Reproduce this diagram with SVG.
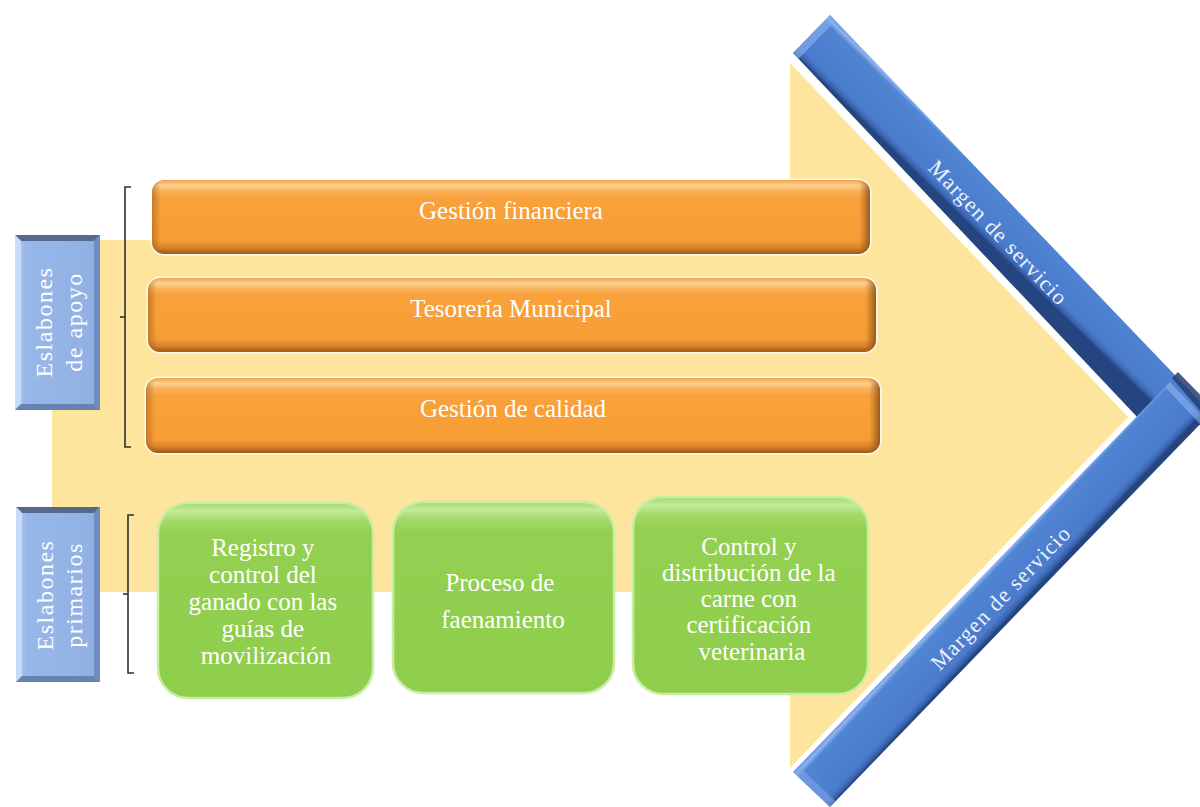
<svg xmlns="http://www.w3.org/2000/svg" width="1200" height="807" viewBox="0 0 1200 807">
  <defs>
    <style>
      .serif { font-family: "Liberation Serif", "Times New Roman", serif; fill: #ffffff; }
      .bar-text { font-size: 25px; text-anchor: middle; }
      .box-text { font-size: 25px; text-anchor: middle; }
      .label-text { font-size: 24px; text-anchor: middle; letter-spacing: 1.5px; }
      .band-text { font-size: 22px; text-anchor: middle; letter-spacing: 1.2px; fill: #eef2fa; }
      .bracket { fill: none; stroke: #2f2f2f; stroke-width: 1.6; }
      .bar-glow { fill: none; stroke: #ffffff; stroke-width: 3; opacity: 0.8; }
      .box-edge { fill: none; stroke: #c9eda3; stroke-width: 2.5; }
    </style>
    <linearGradient id="orangeV" x1="0" y1="0" x2="0" y2="1">
      <stop offset="0" stop-color="#f0a04a"/>
      <stop offset="0.07" stop-color="#fcd18f"/>
      <stop offset="0.15" stop-color="#fab158"/>
      <stop offset="0.24" stop-color="#f9a13b"/>
      <stop offset="0.82" stop-color="#f79d35"/>
      <stop offset="0.92" stop-color="#d7812a"/>
      <stop offset="1" stop-color="#9a5818"/>
    </linearGradient>
    <linearGradient id="orangeSide" x1="0" y1="0" x2="1" y2="0">
      <stop offset="0" stop-color="#8a4c12" stop-opacity="0.45"/>
      <stop offset="0.012" stop-color="#8a4c12" stop-opacity="0"/>
      <stop offset="0.985" stop-color="#8a4c12" stop-opacity="0"/>
      <stop offset="1" stop-color="#6e3c0e" stop-opacity="0.7"/>
    </linearGradient>
    <linearGradient id="greenV" x1="0" y1="0" x2="0" y2="1">
      <stop offset="0" stop-color="#9fd866"/>
      <stop offset="0.04" stop-color="#c4eb99"/>
      <stop offset="0.09" stop-color="#a3da68"/>
      <stop offset="0.16" stop-color="#93d051"/>
      <stop offset="1" stop-color="#8fcd4c"/>
    </linearGradient>
    <linearGradient id="labelFace" x1="0" y1="0" x2="1" y2="0">
      <stop offset="0" stop-color="#b9d1f5"/>
      <stop offset="0.12" stop-color="#98b7e9"/>
      <stop offset="1" stop-color="#90b0e4"/>
    </linearGradient>
    <linearGradient id="bandUpper" gradientUnits="userSpaceOnUse" x1="830" y1="15" x2="793" y2="53">
      <stop offset="0" stop-color="#5f8fdb"/>
      <stop offset="0.07" stop-color="#8fb4ee"/>
      <stop offset="0.16" stop-color="#5085d3"/>
      <stop offset="0.84" stop-color="#4a7bcc"/>
      <stop offset="0.94" stop-color="#3a63ad"/>
      <stop offset="1" stop-color="#24457f"/>
    </linearGradient>
    <linearGradient id="bandLower" gradientUnits="userSpaceOnUse" x1="793" y1="772" x2="830" y2="807">
      <stop offset="0" stop-color="#5f8fdb"/>
      <stop offset="0.07" stop-color="#8fb4ee"/>
      <stop offset="0.16" stop-color="#5085d3"/>
      <stop offset="0.84" stop-color="#4a7bcc"/>
      <stop offset="0.94" stop-color="#3a63ad"/>
      <stop offset="1" stop-color="#24457f"/>
    </linearGradient>
  </defs>

  <rect width="1200" height="807" fill="#ffffff"/>

  <!-- large value-chain arrow -->
  <path id="arrow" d="M52,240 H790 V63 L1128,417 L790,768 V592 H52 Z" fill="#fde59d"/>

  <!-- service-margin chevron bands -->
  <g id="margin-upper">
    <polygon points="793,53 830,15 1218,420 1140,420" fill="url(#bandUpper)"/>
    <polygon points="793,53 830,15 835.5,20.8 798.5,58.8" fill="#86abea" opacity="0.7"/>
    <polygon points="1172,378 1178,372 1215,410 1207,419" fill="#253f73" opacity="0.85"/>
    <text class="serif band-text" transform="translate(998,233) rotate(46.4)" y="7">Margen de servicio</text>
  </g>
  <g id="margin-lower">
    <polygon points="793,772 830,807 1205,419 1170,382" fill="url(#bandLower)"/>
    <polygon points="793,772 830,807 835.6,801.2 798.6,766.2" fill="#7fa5e6" opacity="0.6"/>
    <polygon points="1170,382 1205,419 1200,424 1166,388" fill="#8fb4ee" opacity="0.6"/>
    <text class="serif band-text" transform="translate(1001,598) rotate(-46)" y="7">Margen de servicio</text>
  </g>

  <!-- brackets grouping the links -->
  <g id="connectors">
    <path class="bracket" d="M131,187 H125 V447 H131"/>
    <path class="bracket" d="M125,317 H120"/>
    <path class="bracket" d="M134,515 H128 V673 H134"/>
    <path class="bracket" d="M128,594 H123"/>
  </g>

  <!-- side labels -->
  <g id="label-apoyo">
    <rect x="15" y="235" width="85" height="175" fill="url(#labelFace)"/>
    <polygon points="15,235 100,235 94,241 21,241" fill="#56698d"/>
    <polygon points="15,235 21,241 21,404 15,410" fill="#c8dbf8"/>
    <polygon points="100,235 100,410 94,404 94,241" fill="#6f8cc2"/>
    <polygon points="15,410 100,410 94,404 21,404" fill="#6781b2"/>
    <text class="serif label-text" transform="translate(52,322) rotate(-90)">Eslabones</text>
    <text class="serif label-text" transform="translate(82,322) rotate(-90)">de apoyo</text>
  </g>
  <g id="label-primarios">
    <rect x="16" y="507" width="84" height="175" fill="url(#labelFace)"/>
    <polygon points="16,507 100,507 94,513 22,513" fill="#56698d"/>
    <polygon points="16,507 22,513 22,676 16,682" fill="#c8dbf8"/>
    <polygon points="100,507 100,682 94,676 94,513" fill="#6f8cc2"/>
    <polygon points="16,682 100,682 94,676 22,676" fill="#6781b2"/>
    <text class="serif label-text" transform="translate(53,595) rotate(-90)">Eslabones</text>
    <text class="serif label-text" transform="translate(82,595) rotate(-90)">primarios</text>
  </g>

  <!-- support activities -->
  <g id="gestion-financiera">
    <rect class="bar-glow" x="152" y="180" width="718" height="74" rx="12"/>
    <rect x="152" y="180" width="718" height="74" rx="12" fill="url(#orangeV)"/>
    <rect x="152" y="180" width="718" height="74" rx="12" fill="url(#orangeSide)"/>
    <text class="serif bar-text" x="511" y="219">Gestión financiera</text>
  </g>
  <g id="tesoreria-municipal">
    <rect class="bar-glow" x="148" y="278" width="728" height="74" rx="12"/>
    <rect x="148" y="278" width="728" height="74" rx="12" fill="url(#orangeV)"/>
    <rect x="148" y="278" width="728" height="74" rx="12" fill="url(#orangeSide)"/>
    <text class="serif bar-text" x="511" y="317">Tesorería Municipal</text>
  </g>
  <g id="gestion-calidad">
    <rect class="bar-glow" x="146" y="378" width="734" height="75" rx="12"/>
    <rect x="146" y="378" width="734" height="75" rx="12" fill="url(#orangeV)"/>
    <rect x="146" y="378" width="734" height="75" rx="12" fill="url(#orangeSide)"/>
    <text class="serif bar-text" x="513" y="417">Gestión de calidad</text>
  </g>

  <!-- primary activities -->
  <g id="registro-control">
    <rect x="158" y="503" width="215" height="195" rx="30" fill="url(#greenV)"/>
    <rect class="box-edge" x="158" y="503" width="215" height="195" rx="30"/>
    <text class="serif box-text">
      <tspan x="266" y="556">Registro y</tspan>
      <tspan x="266" y="583">control del</tspan>
      <tspan x="266" y="610">ganado con las</tspan>
      <tspan x="266" y="637">guías de</tspan>
      <tspan x="266" y="664">movilización</tspan>
    </text>
  </g>
  <g id="proceso-faenamiento">
    <rect x="393" y="502" width="221" height="191" rx="30" fill="url(#greenV)"/>
    <rect class="box-edge" x="393" y="502" width="221" height="191" rx="30"/>
    <text class="serif box-text">
      <tspan x="503" y="591">Proceso de</tspan>
      <tspan x="503" y="628">faenamiento</tspan>
    </text>
  </g>
  <g id="control-distribucion">
    <rect x="633" y="497" width="235" height="197" rx="30" fill="url(#greenV)"/>
    <rect class="box-edge" x="633" y="497" width="235" height="197" rx="30"/>
    <text class="serif box-text">
      <tspan x="752" y="555">Control y</tspan>
      <tspan x="752" y="581">distribución de la</tspan>
      <tspan x="752" y="607">carne con</tspan>
      <tspan x="752" y="633">certificación</tspan>
      <tspan x="752" y="660">veterinaria</tspan>
    </text>
  </g>
</svg>
